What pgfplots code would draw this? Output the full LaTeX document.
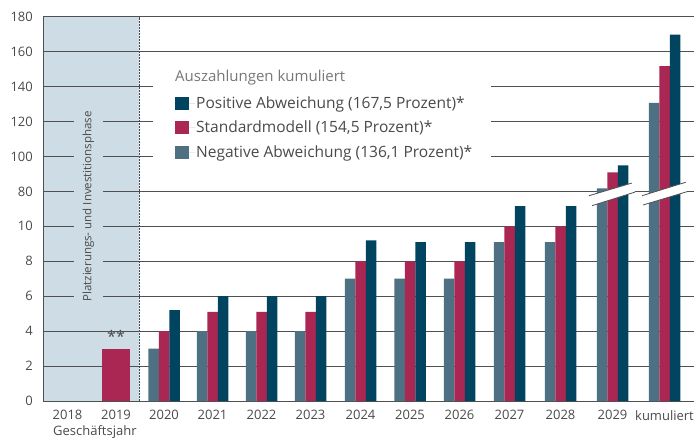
\documentclass[border=0pt]{standalone}
\usepackage{pgfplots}
\pgfplotsset{compat=1.18}
\usepackage{pgfplotstable}
\usepackage{fontspec}
\setmainfont{Open Sans}
\definecolor{cpos}{HTML}{00445F}
\definecolor{cstd}{HTML}{AA2653}
\definecolor{cneg}{HTML}{4E7083}
\definecolor{cshade}{HTML}{CEDDE5}
\definecolor{cgrid}{HTML}{505050}
\definecolor{ctext}{HTML}{4A4A4A}
\definecolor{ctitle}{HTML}{777777}
\definecolor{cdash}{HTML}{3A4F5C}
% y values are given on the chart's broken scale:
% ticks 0,2,4,6,8,10 at 0..5 and 80,100,...,180 at 6..11
\pgfplotstableread{
x     neg    std    pos
164   1.5    2      2.6
212.5 2      2.55   3
261.5 2      2.55   3
310.5 2      2.55   3
360.5 3.5    4      4.6
410   3.5    4      4.55
459.5 3.5    4      4.55
509.5 4.55   5      5.58
560.5 4.55   5      5.58
612.5 6.085  6.545  6.745
664.5 8.53   9.585  10.49
}\data
\pgfplotstableread{
x   std
116 1.5
}\early
\begin{document}
\begin{tikzpicture}
% background of the placement/investment phase (behind the whole axis)
\fill[cshade] (43bp,37bp) rectangle (139bp,421.3bp);
\begin{axis}[
  at={(43bp,37bp)}, anchor=south west,
  scale only axis, width=651bp, height=384.3bp,
  xmin=43, xmax=694, ymin=0, ymax=11,
  clip=false,
  axis lines*=left,
  axis line style={-, draw=cgrid, line width=1bp},
  ytick={0,1,2,3,4,5,6,7,8,9,10,11},
  yticklabels={0,2,4,6,8,10,80,100,120,140,160,180},
  xtick={67.5,116,164,212.5,261.5,310.5,360.5,410,459.5,509.5,560.5,612.5,664.5},
  xticklabels={2018,2019,2020,2021,2022,2023,2024,2025,2026,2027,2028,2029,kumuliert},
  major tick length=0pt,
  ymajorgrids,
  grid style={draw=cgrid, line width=0.9bp},
  /pgf/number format/assume math mode=true,
  tick label style={color=ctext, font=\fontsize{13bp}{15bp}\selectfont},
  yticklabel style={anchor=east, inner sep=0pt, xshift=-10bp},
  xticklabel style={anchor=north, inner sep=0pt, yshift=-9bp},
  ybar=0pt, bar width=10.5bp,
  reverse legend,
  legend style={at={(axis cs:175,8.74)}, anchor=north west, draw=none, fill=none,
    font=\fontsize{15.5bp}{17bp}\selectfont, text=ctext,
    row sep=9bp, inner sep=0pt,
    nodes={inner sep=1bp}},
  legend cell align=left,
  legend image code/.code={\fill[#1] (0bp,-6.5bp) rectangle (14bp,6.5bp);
     \path (0bp,0bp) -- (20bp,0bp);},
]
\addplot[fill=cneg, draw=none, bar shift=-10.5bp] table[x=x, y=neg] {\data};
\addlegendentry{Negative Abweichung (136,1 Prozent)*}
\addplot[fill=cstd, draw=none, bar shift=0bp] table[x=x, y=std] {\data};
\addlegendentry{Standardmodell (154,5 Prozent)*}
\addplot[fill=cpos, draw=none, bar shift=10.5bp] table[x=x, y=pos] {\data};
\addlegendentry{Positive Abweichung (167,5 Prozent)*}
\addplot[fill=cstd, draw=none, bar shift=0bp, bar width=28bp, forget plot] table[x=x, y=std] {\early};
% dashed separator
\draw[draw=cdash, line width=1bp, dash pattern=on 2bp off 1bp] (axis cs:139,0) -- (axis cs:139,11);
\node[text=ctext, font=\fontsize{16bp}{18bp}\selectfont] at (axis cs:116,1.85) {**};
% legend backdrop and title
\fill[white] (axis cs:153,6.754) rectangle (axis cs:491,9.76);
\node[anchor=west, inner sep=0pt, text=ctitle, font=\fontsize{15bp}{17bp}\selectfont] at (axis cs:175,9.25) {Auszahlungen kumuliert};
% axis break marks
\fill[white] (axis cs:589,5.876) -- (axis cs:632,6.239) -- (axis cs:635,5.98) -- (axis cs:592,5.59) -- cycle;
\draw[cgrid, line width=0.8bp] (axis cs:589,5.876) -- (axis cs:632,6.239);
\draw[cgrid, line width=0.8bp] (axis cs:592,5.59) -- (axis cs:635,5.98);
\fill[white] (axis cs:642,5.876) -- (axis cs:685.7,6.26) -- (axis cs:688,6.0) -- (axis cs:643,5.61) -- cycle;
\draw[cgrid, line width=0.8bp] (axis cs:642,5.876) -- (axis cs:685.7,6.26);
\draw[cgrid, line width=0.8bp] (axis cs:643,5.61) -- (axis cs:688,6.0);
% x-axis title
\node[anchor=west, inner sep=0pt, text=ctext, font=\fontsize{13bp}{15bp}\selectfont] at ([yshift=-31bp]axis cs:53,0) {Geschäftsjahr};
\end{axis}
% phase label and the grid lines of the shaded phase region (broken around the label)
\node[rotate=90, fill=cshade, inner xsep=5bp, inner ysep=9bp, text=ctext,
  font=\fontsize{11.5bp}{14bp}\selectfont] at (88.3bp,231.5bp) {Platzierungs- und Investitionsphase};
\foreach \k in {2,9,10,11}
  \draw[cgrid, line width=0.9bp] (43bp,37bp+\k*34.936bp) -- (138.5bp,37bp+\k*34.936bp);
\draw[cgrid, line width=0.9bp] (43bp,37bp+34.936bp) -- (102bp,37bp+34.936bp);
\draw[cgrid, line width=0.9bp] (130bp,37bp+34.936bp) -- (138.5bp,37bp+34.936bp);
\foreach \k in {3,...,8}{
  \draw[cgrid, line width=0.9bp] (43bp,37bp+\k*34.936bp) -- (73bp,37bp+\k*34.936bp);
  \draw[cgrid, line width=0.9bp] (104bp,37bp+\k*34.936bp) -- (138.5bp,37bp+\k*34.936bp);}
\pgfresetboundingbox
\path[use as bounding box] (0,0) rectangle (694bp,438bp);
\end{tikzpicture}
\end{document}
